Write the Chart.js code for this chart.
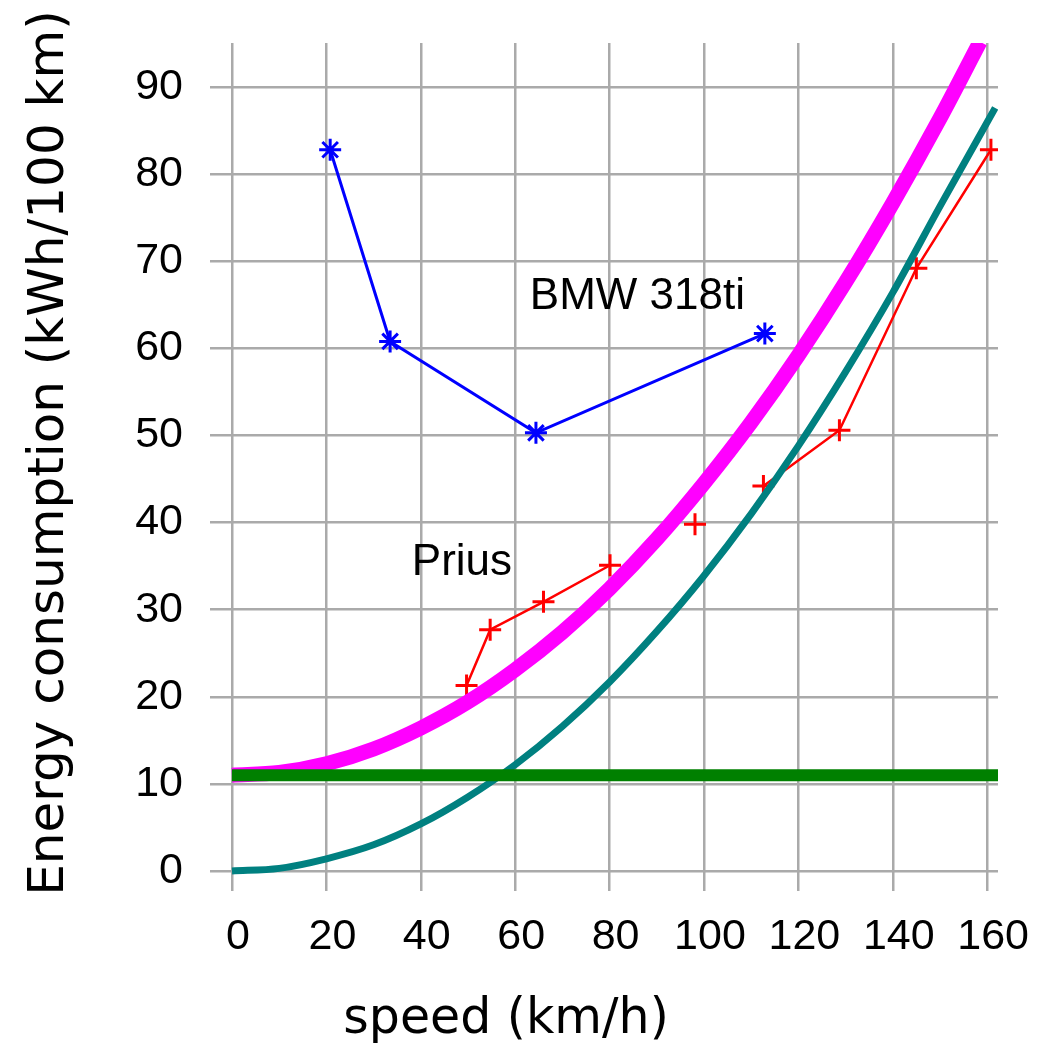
<!DOCTYPE html>
<html>
<head>
<meta charset="utf-8">
<script src="https://cdn.jsdelivr.net/npm/chart.js@4"></script>
<style>
  body { margin: 0; background: #fff; }
  #wrap { width: 1048px; height: 1045px; }
</style>
</head>
<body>
<div id="wrap"><canvas id="myChart" width="1048" height="1045"></canvas></div>
<script>
// ***** data *****
const xTicks = [0, 20, 40, 60, 80, 100, 120, 140, 160];
const yTicks = [0, 10, 20, 30, 40, 50, 60, 70, 80, 90];

const bmwSpeed = [20.8, 33.5, 64.4, 112.9];
const bmwEnergy = [82.8, 60.8, 50.3, 61.7];

const priusSpeed = [49.7, 54.7, 66.0, 80.1, 98.1, 112.6, 128.7, 145.0, 160.8];
const priusEnergy = [21.3, 27.7, 30.9, 35.1, 39.8, 44.2, 50.6, 69.2, 82.8];
const priusBreaks = [3, 4]; // no line drawn after these points

const totalSpeed = [0, 10, 20, 30, 40, 50, 60, 70, 80, 90, 100, 110, 120, 130, 140, 150, 158.5];
const totalEnergy = [11.0, 11.3, 12.3, 14.0, 16.4, 19.4, 23.1, 27.4, 32.4, 38.1, 44.5, 51.5, 59.2, 67.6, 76.7, 86.4, 95.2];

const dragSpeed = [0, 10, 20, 30, 40, 50, 60, 70, 80, 90, 100, 110, 120, 130, 140, 150, 161.7];
const dragEnergy = [0, 0.3, 1.4, 3.0, 5.4, 8.5, 12.2, 16.6, 21.7, 27.5, 33.9, 41.0, 48.8, 57.3, 66.4, 76.3, 87.6];

const baseSpeed = [0, 162.3];
const baseEnergy = [11.0, 11.0];

const labels = [
    { text: "BMW 318ti", x: 63.1, y: 65.9 },
    { text: "Prius", x: 38.1, y: 35.4 }
];

const pts = (xs, ys) => xs.map((x, i) => ({ x: x, y: ys[i] }));

const tickFont = { family: "'Liberation Sans', Arial, sans-serif", size: 43 };
const gridColor = "#aaaaaa";

//*****text drawn on the chart*****//
const textPlugin = {
    id: "texts",
    afterDatasetsDraw(chart) {
        const ctx = chart.ctx;
        const xs = chart.scales.x;
        const ys = chart.scales.y;
        ctx.save();
        ctx.fillStyle = "#000";
        ctx.font = "44px 'Liberation Sans', Arial, sans-serif";
        ctx.textAlign = "left";
        ctx.textBaseline = "middle";
        labels.forEach(l => {
            ctx.fillText(l.text, xs.getPixelForValue(l.x), ys.getPixelForValue(l.y));
        });
        ctx.textAlign = "center";
        ctx.font = "49px 'DejaVu Sans', sans-serif";
        ctx.fillText("speed (km/h)", 506, 1020);
        ctx.font = "50px 'DejaVu Sans', sans-serif";
        ctx.translate(50, 453);
        ctx.rotate(-Math.PI / 2);
        ctx.fillText("Energy consumption (kWh/100 km)", 0, 0);
        ctx.restore();
    }
};

new Chart("myChart", {
    type: "line",
    data: {
        datasets: [
            {
                data: pts(baseSpeed, baseEnergy),
                borderColor: "#008000",
                borderWidth: 12,
                pointRadius: 0
            },
            {
                data: pts(bmwSpeed, bmwEnergy),
                borderColor: "#0000ff",
                borderWidth: 3,
                pointStyle: "star",
                pointRadius: 11,
                pointBorderWidth: 3,
                pointBorderColor: "#0000ff"
            },
            {
                data: pts(dragSpeed, dragEnergy),
                borderColor: "#008080",
                borderWidth: 7,
                pointRadius: 0,
                cubicInterpolationMode: "monotone"
            },
            {
                data: pts(totalSpeed, totalEnergy),
                borderColor: "#ff00ff",
                borderWidth: 15,
                pointRadius: 0,
                cubicInterpolationMode: "monotone"
            },
            {
                data: pts(priusSpeed, priusEnergy),
                borderColor: "#ff0000",
                borderWidth: 2.5,
                pointStyle: "cross",
                pointRadius: 11,
                pointBorderWidth: 3,
                pointBorderColor: "#ff0000",
                segment: {
                    borderColor: c => priusBreaks.includes(c.p0DataIndex) ? "transparent" : "#ff0000"
                }
            }
        ]
    },
    options: {
        responsive: false,
        animation: false,
        layout: { padding: { top: 43, right: 50, left: 0, bottom: 0 } },
        plugins: {
            legend: { display: false },
            tooltip: { enabled: false }
        },
        scales: {
            x: {
                type: "linear",
                min: -4.66,
                max: 162.3,
                afterBuildTicks: s => { s.ticks = xTicks.map(v => ({ value: v })); },
                afterFit: s => { s.height = 154; s.paddingLeft = 0; s.paddingRight = 0; },
                border: { display: false },
                grid: { color: gridColor, lineWidth: 2.5, drawTicks: false },
                ticks: { font: tickFont, color: "#000", padding: 20, labelOffset: 6, maxRotation: 0 }
            },
            y: {
                type: "linear",
                min: -2.3,
                max: 95.06,
                afterBuildTicks: s => { s.ticks = yTicks.map(v => ({ value: v })); },
                afterFit: s => { s.width = 210; s.paddingTop = 0; s.paddingBottom = 0; },
                border: { display: false },
                grid: { color: gridColor, lineWidth: 2.5, drawTicks: false },
                ticks: { font: tickFont, color: "#000", padding: 27 }
            }
        }
    },
    plugins: [textPlugin]
});
</script>
</body>
</html>
